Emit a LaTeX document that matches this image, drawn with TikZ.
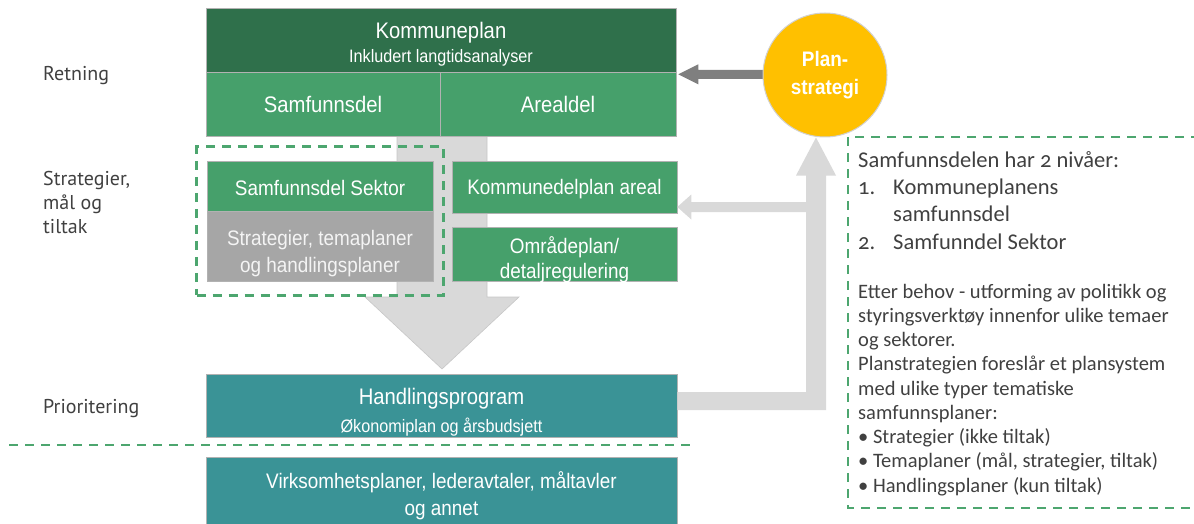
\documentclass[tikz,border=0pt]{standalone}
\usepackage{fontspec}
\setmainfont{Liberation Sans}
\newfontfamily\boxfont[FakeStretch=0.9]{Liberation Sans}
\newfontfamily\lblfont{PT Sans}
\newfontfamily\notefont[Numbers=OldStyle]{Carlito}
\usetikzlibrary{calc,fit}
\definecolor{dkgreen}{HTML}{2F704B}
\definecolor{midgreen}{HTML}{46A06B}
\definecolor{tealbox}{HTML}{3A9396}
\definecolor{greybox}{HTML}{A6A6A6}
\definecolor{lightarrow}{HTML}{D9D9D9}
\definecolor{darkarrow}{HTML}{7F7F7F}
\definecolor{planyellow}{HTML}{FFC000}
\definecolor{dashgreen}{HTML}{4DA66F}
\definecolor{lbltext}{HTML}{404040}
\definecolor{offwhite}{HTML}{F4F4F4}
\begin{document}
\begin{tikzpicture}[x=1pt,y=-1pt,
  box/.style={draw=black!30, line width=0.6pt, inner sep=0pt},
  txt/.style={text=white, inner sep=0pt, align=center},
  big/.style={font=\boxfont\fontsize{22.5}{28}\selectfont},
  mid/.style={font=\boxfont\fontsize{21}{27}\selectfont},
  dashbox/.style={draw=dashgreen, line width=2.6pt, dash pattern=on 9pt off 7pt},
  lbl/.style={anchor=base west, text=lbltext, inner sep=0pt, align=left, font=\lblfont\fontsize{20}{23.8}\selectfont},
  note/.style={anchor=base west, text=lbltext, inner sep=0pt, align=left},
  bigarrow/.style={fill=lightarrow, draw=black!22, line width=0.6pt},
  flatarrow/.style={fill=lightarrow}]
\useasboundingbox (0,0) rectangle (1194,524);

\coordinate (dtip) at (442,369);
\draw[bigarrow] ($(dtip|-0,136)+(-45,0)$) -- ($(dtip)+(-45,-72)$) -- ($(dtip)+(-77,-72)$) -- (dtip)
  -- ($(dtip)+(77,-72)$) -- ($(dtip)+(45,-72)$) -- ($(dtip|-0,136)+(45,0)$) -- cycle;

% boxes
\node[box, fill=dkgreen, minimum width=470pt, minimum height=64pt] (kp) at (441,40) {};
\node[box, fill=midgreen, minimum width=234pt, minimum height=64pt] (sd) at (323,104) {};
\node[box, fill=midgreen, minimum width=236pt, minimum height=64pt] (ad) at (558,104) {};
\node[box, fill=midgreen, minimum width=226pt, minimum height=50pt] (sek) at (320,186) {};
\node[box, fill=greybox, minimum width=226pt, minimum height=70pt] (tema) at (320,246) {};
\node[box, fill=midgreen, minimum width=225pt, minimum height=52pt] (kda) at (564.5,187) {};
\node[box, fill=midgreen, minimum width=225pt, minimum height=54pt] (omr) at (564.5,254) {};
\node[box, fill=tealbox, minimum width=471pt, minimum height=63pt] (hp) at (441.5,405.5) {};
\node[box, fill=tealbox, minimum width=471pt, minimum height=69pt] (virk) at (441.5,491.5) {};

% box texts
\node[txt, big] (kpT) at ($(kp.center)+(0,4)$)
  {Kommuneplan\\[-4pt]\fontsize{18}{20}\selectfont Inkludert langtidsanalyser};
\node[txt, big] (sdT) at (sd.center) {Samfunnsdel};
\node[txt, big] (adT) at (ad.center) {Arealdel};
\node[txt, mid] (sekT) at ($(sek.center)+(0,2)$) {Samfunnsdel Sektor};
\node[txt, mid, text=offwhite] (temaT) at ($(tema.center)+(0,8)$) {Strategier, temaplaner\\og handlingsplaner};
\node[txt, mid] (kdaT) at ($(kda.center)+(0,2)$) {Kommunedelplan areal};
\node[txt, mid] (omrT) at ($(omr.center)+(0,6)$) {Områdeplan/\\[-2pt]detaljregulering};
\node[txt, big] (hpT) at ($(hp.center)+(0,6.5)$)
  {Handlingsprogram\\[0pt]\fontsize{18}{20}\selectfont Økonomiplan og årsbudsjett};
\node[txt, mid] (virkT) at ($(virk.center)+(0,4)$) {Virksomhetsplaner, lederavtaler, måltavler\\og annet};

% dark arrow from planstrategi to kommuneplan
\coordinate (atip) at ($(kp.south east)+(2,2)$);
\fill[darkarrow] (atip) -- ($(atip)+(20,-10)$) -- ($(atip)+(20,-4.5)$) -- ($(atip)+(92,-4.5)$)
  -- ($(atip)+(92,4.5)$) -- ($(atip)+(20,4.5)$) -- ($(atip)+(20,10)$) -- cycle;

% circle
\node[circle, fill=planyellow, draw=black!18, line width=1pt, minimum size=124pt, inner sep=0pt,
  text=white, align=center, font=\boxfont\bfseries\fontsize{21}{28}\selectfont] (ps) at (825,75) {Plan-\\strategi};

% light L arrow from handlingsprogram up to planstrategi
\coordinate (vtip) at ($(ps.south)+(-9,0)$);
\fill[flatarrow] ($(hp.east)+(0,-13.5)$) -- ($(vtip|-hp.east)+(-10,-13.5)$) -- ($(vtip)+(-10,38)$)
  -- ($(vtip)+(-20,38)$) -- (vtip) -- ($(vtip)+(20,38)$) -- ($(vtip)+(10,38)$)
  -- ($(vtip|-hp.east)+(10,4.5)$) -- ($(hp.east)+(0,4.5)$) -- cycle;
% branch to kommunedelplan areal
\coordinate (btip) at ($(kda.east)+(0,20)$);
\fill[flatarrow] (btip) -- ($(btip)+(14,-12.5)$) -- ($(btip)+(14,-5)$) -- ($(vtip|-btip)+(-9,-5)$)
  -- ($(vtip|-btip)+(-9,5)$) -- ($(btip)+(14,5)$) -- ($(btip)+(14,12.5)$) -- cycle;

% dashed frames
\node[dashbox, fit=(sek)(tema), inner xsep=10pt, inner ysep=14pt] (grp) {};
\draw[dashbox] (9,445) -- (697,445);
\draw[dashbox] (1200,137) -- (848,137) -- (848,508) -- (1200,508);

% left labels (base = last line)
\node[lbl] (l1) at (43,81) {Retning};
\node[lbl] (l2) at (43,233) {Strategier,\\mål og\\tiltak};
\node[lbl] (l3) at (43,413) {Prioritering};

% note text (base = last line)
\node[note, font=\notefont\fontsize{22.5}{27.3}\selectfont] (n1) at (858,249)
  {Samfunnsdelen har 2 nivåer:\\\makebox[35pt][l]{1.}Kommuneplanens\\\hspace*{35pt}samfunnsdel\\\makebox[35pt][l]{2.}Samfunndel Sektor};
\node[note, font=\notefont\fontsize{20.5}{24.25}\selectfont] (n2) at (858,492)
  {Etter behov - utforming av politikk og\\styringsverktøy innenfor ulike temaer\\og sektorer.\\Planstrategien foreslår et plansystem\\med ulike typer tematiske\\samfunnsplaner:\\• Strategier (ikke tiltak)\\• Temaplaner (mål, strategier, tiltak)\\• Handlingsplaner (kun tiltak)};
\end{tikzpicture}
\end{document}
